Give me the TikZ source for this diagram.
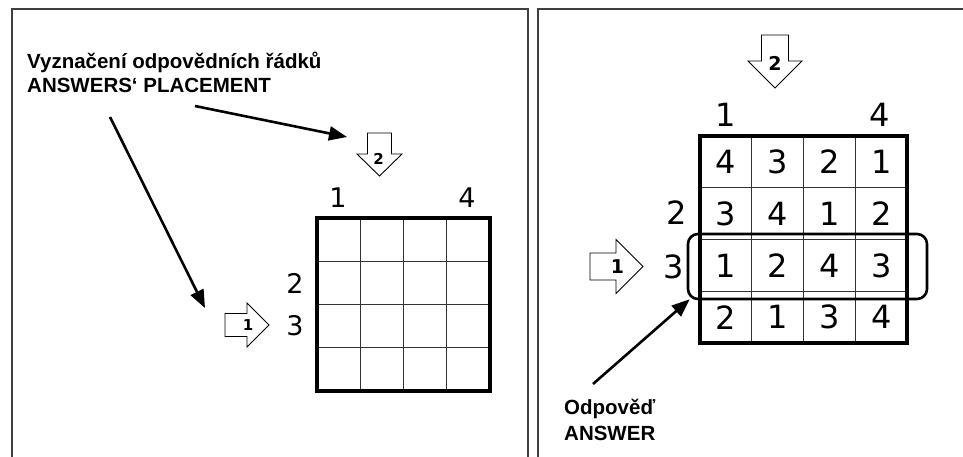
\documentclass[tikz,border=0pt]{standalone}
\usepackage{fontspec}
\usetikzlibrary{arrows.meta}
\newfontfamily\capfont{Liberation Sans}
\newfontfamily\numfont{DejaVu Sans}

\tikzset{
  frame/.style={line width=1.5pt, black!75},
  caption/.style={anchor=base west, inner sep=0pt, font=\capfont\bfseries\fontsize{20.5}{24}\selectfont},
  pointer/.style={line width=2.6pt, -{Triangle[length=18pt,width=14pt]}},
  blockarrow/.style={draw, line width=0.9pt, fill=white, line join=miter},
  arrowlabel/.style={inner sep=0pt, font=\numfont\bfseries\fontsize{#1}{#1}\selectfont},
  cellline/.style={line width=1pt, black!80},
  gridborder/.style={line width=3.5pt, line join=miter},
  smalldigit/.style={inner sep=0pt, font=\numfont\fontsize{27}{27}\selectfont},
  bigdigit/.style={inner sep=0pt, font=\numfont\fontsize{32}{32}\selectfont}
}

\begin{document}
\begin{tikzpicture}[x=1pt, y=-1pt]
\useasboundingbox (0,0) rectangle (963,457);
% panel frames
\draw[frame] (12,470) -- (12,9) -- (528,9) -- (528,470);
\draw[frame] (538,470) -- (538,9) -- (975,9);

% left panel: empty grid
\foreach \i in {1,2,3} {
  \draw[cellline] (317+43.2*\i,218) -- ++(0,172.8);
  \draw[cellline] (317,218+43.2*\i) -- ++(172.8,0);
}
\draw[gridborder] (317,218) rectangle ++(172.8,172.8);
\node[smalldigit] (lcolone) at (338,198) {1};
\node[smalldigit] (lcolfour) at (467,198) {4};
\node[smalldigit] (lrowtwo) at (295,283.5) {2};
\node[smalldigit] (lrowthree) at (295,326) {3};

% block arrows of the left panel
\coordinate (lone) at (247,325);
\draw[blockarrow] (lone) ++(-22,-11.5) -- ++(22,0) -- ++(0,-10.5) -- ++(22,22)
  -- ++(-22,22) -- ++(0,-10.5) -- ++(-22,0) -- cycle;
\node[arrowlabel=15] (lonetext) at (248,325) {1};
\coordinate (ltwo) at (379.5,154);
\draw[blockarrow] (ltwo) ++(-12,-21) -- ++(24,0) -- ++(0,21) -- ++(10.5,0)
  -- ++(-22.5,22) -- ++(-22.5,-22) -- ++(10.5,0) -- cycle;
\node[arrowlabel=15] (ltwotext) at (378.5,158.5) {2};

% caption and its pointers
\node[caption] (placetop) at (27,68.5) {Vyznačení odpovědních řádků};
\node[caption] (placebot) at (27,92.5) {ANSWERS‘ PLACEMENT};
\coordinate (capfoot) at (195,106);
\coordinate (capleft) at (110,117);
\coordinate (ltwotip) at (347,137);
\coordinate (lonetip) at (205,308);
\draw[pointer] (capfoot) -- (ltwotip);
\draw[pointer] (capleft) -- (lonetip);

% right panel: filled grid
\foreach \i in {1,2,3} {
  \draw[cellline] (700+51.8*\i,136) -- ++(0,207.2);
  \draw[cellline] (700,136+51.8*\i) -- ++(207.2,0);
}
\draw[gridborder] (700,136) rectangle ++(207.2,207.2);
\foreach \row [count=\r] in {{4,3,2,1},{3,4,1,2},{1,2,4,3},{2,1,3,4}} {
  \foreach \v [count=\c] in \row {
    \node[bigdigit] at (700+51.8*\c-25.9,136+51.8*\r-25.9) {\v};
  }
}
\node[bigdigit] (rcolone) at (726,115) {1};
\node[bigdigit] (rcolfour) at (880,115) {4};
\node[bigdigit] (rrowtwo) at (677,213) {2};
\node[bigdigit] (rrowthree) at (674,266.5) {3};

% answer row
\node[draw, line width=2.6pt, rounded corners=10pt, inner sep=0pt,
  minimum width=239pt, minimum height=65pt] (answerrow) at (807.5,266.5) {};

% block arrows of the right panel
\coordinate (rtwo) at (775,61);
\draw[blockarrow] (rtwo) ++(-13.5,-26) -- ++(27,0) -- ++(0,26) -- ++(13.5,0)
  -- ++(-27,27) -- ++(-27,-27) -- ++(13.5,0) -- cycle;
\node[arrowlabel=19] (rtwotext) at (775,63) {2};
\coordinate (rone) at (616,266.5);
\draw[blockarrow] (rone) ++(-26,-13.5) -- ++(26,0) -- ++(0,-13.5) -- ++(27,27)
  -- ++(-27,27) -- ++(0,-13.5) -- ++(-26,0) -- cycle;
\node[arrowlabel=19] (ronetext) at (617.5,267) {1};

% answer caption
\node[caption] (answertop) at (564,414.5) {Odpověď};
\node[caption] (answerbot) at (564,440) {ANSWER};
\coordinate (answerfoot) at (593,384);
\draw[pointer] (answerfoot) -- ([shift={(3,-1)}]answerrow.south west);
\end{tikzpicture}
\end{document}
